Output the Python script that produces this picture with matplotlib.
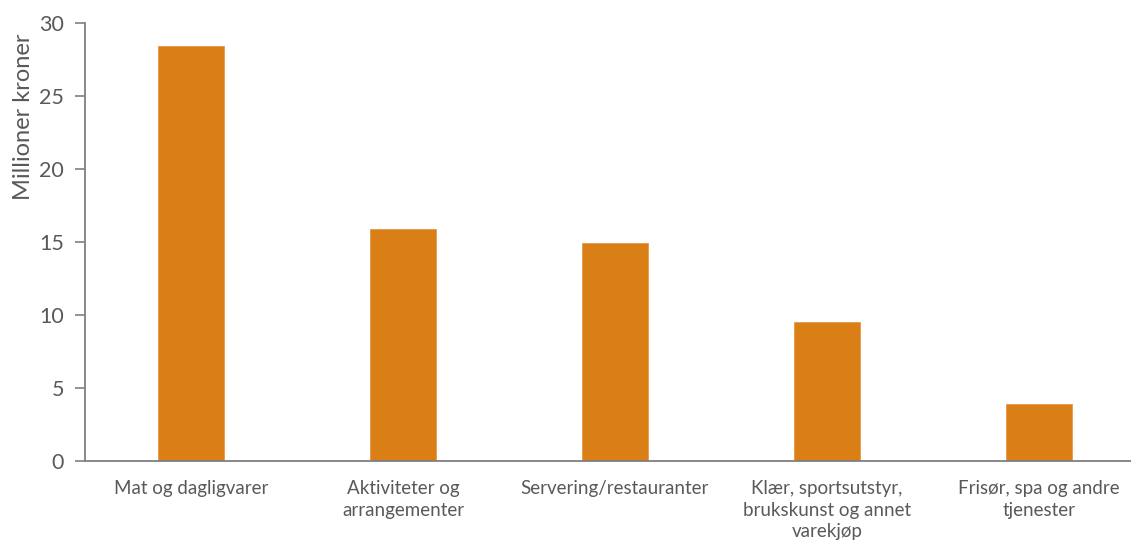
import matplotlib
matplotlib.use("Agg")
import matplotlib.pyplot as plt

categories = ["Mat og dagligvarer", "Aktiviteter og\narrangementer", "Servering/restauranter",
              "Klær, sportsutstyr,\nbrukskunst og annet\nvarekjøp", "Frisør, spa og andre\ntjenester"]
values = [28.4, 15.9, 14.9, 9.5, 3.9]

plt.rcParams['font.family'] = ['Lato', 'DejaVu Sans']

fig = plt.figure(figsize=(11.31, 5.49), dpi=100)
ax = fig.add_axes([85 / 1131, 88 / 549, 1 - 85 / 1131, 438 / 549])

x = range(len(categories))
ax.bar(x, values, width=0.31, color='#D97F16', edgecolor='#E39A4A', linewidth=0.6)

ax.set_xlim(-0.5, 4.434)
ax.set_ylim(0, 30)
ax.set_yticks([0, 5, 10, 15, 20, 25, 30])
ax.set_xticks(list(x))
ax.set_xticklabels(categories, fontsize=13.5, color='#595959', linespacing=1.3)
ax.tick_params(axis='x', length=0, pad=14)
ax.tick_params(axis='y', labelsize=15.5, colors='#595959', length=7, width=1.2, color='#7f7f7f', pad=8)
ax.set_ylabel("Millioner kroner", fontsize=17, color='#595959')
ax.yaxis.set_label_coords(-0.049, 0.785)

for s in ['top', 'right']:
    ax.spines[s].set_visible(False)
for s in ['left', 'bottom']:
    ax.spines[s].set_color('#7f7f7f')
    ax.spines[s].set_linewidth(1.3)

plt.savefig("out.png", dpi=100)
